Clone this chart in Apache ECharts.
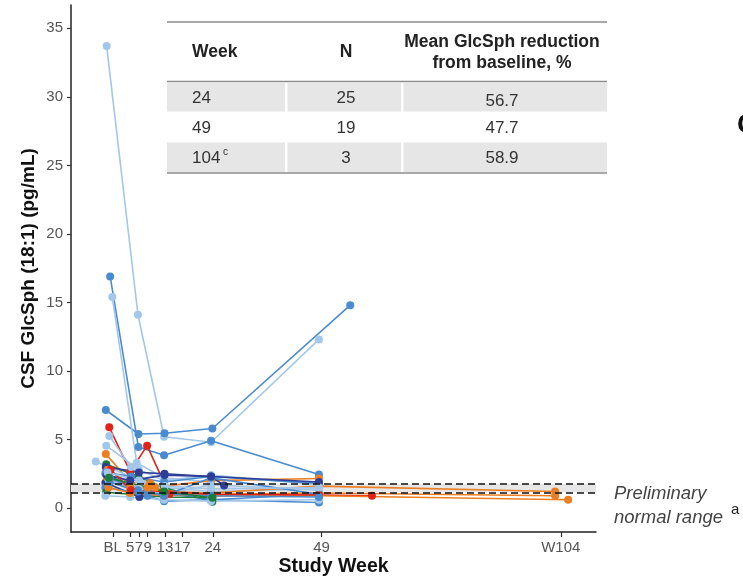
<!DOCTYPE html>
<html>
<head>
<meta charset="utf-8">
<script src="https://cdn.jsdelivr.net/npm/echarts@6/dist/echarts.min.js"></script>
<style>
  html, body { margin: 0; padding: 0; background: #fff; }
  #main { width: 743px; height: 578px; }
</style>
</head>
<body>
<div id="main"></div>
<script>
// tick positions on the study week axis
const weekTicks = [1, 5, 7, 9, 13, 17, 24, 49, 104];
const weekTickLabels = ['BL', '5', '7', '9', '13', '17', '24', '49', 'W104'];
const yTicks = [0, 5, 10, 15, 20, 25, 30, 35];

// normal range band (pg/mL)
const normalRange = [1.15, 1.75];

// per patient: colour group, visit weeks (as plotted, with jitter), values
const patientColors = [
  'lightBlue', 'blue', 'blue', 'lightBlue', 'red', 'lightBlue', 'lightBlue',
  'orange', 'lightBlue', 'green', 'navy', 'blue', 'navy', 'blue', 'green',
  'lightBlue', 'orange', 'orange', 'orange', 'blue', 'lightBlue', 'blue',
  'navy', 'red', 'lightBlue', 'blue', 'green'
];
const patientWeeks = [
  [-0.4, 6.8, 12.8, 23.6, 48.4],
  [0.4, 6.9, 12.8, 23.6, 48.4],
  [-0.6, 6.9, 12.9, 23.9, 55.6],
  [0.9, 6.5, 12.8, 23.6],
  [0.2, 5.0, 8.9, 14.0, 23.6, 48.4, 60.6],
  [0.2, 5.2, 9.2, 12.8, 23.6, 48.4],
  [-0.5, 7.0, 12.8, 23.6, 48.4],
  [-0.6, 5.0, 9.6, 12.8, 23.6, 48.4],
  [-2.9, 7.0, 12.8, 23.6],
  [-0.5, 6.9, 12.8, 23.9],
  [-0.6, 7.0, 12.9, 23.6, 26.6],
  [-0.7, 5.0, 9.0, 12.8, 23.6, 48.4],
  [-0.7, 7.1, 12.8, 23.6],
  [-0.7, 5.0, 9.0, 12.8, 23.6, 48.4],
  [-0.5, 5.0, 12.8, 23.9],
  [-0.7, 5.0, 12.8, 23.6, 48.4],
  [-0.3, 5.0, 10.7, 12.8, 23.6, 48.4, 102.7],
  [0.0, 5.0, 12.8, 23.6, 48.4, 102.7],
  [-0.2, 5.0, 9.0, 12.8, 23.6, 48.4, 105.7],
  [-0.6, 5.2, 12.8, 23.6, 48.4],
  [0.1, 7.0, 12.8, 23.6, 48.4],
  [0.3, 6.8, 12.8, 23.6, 48.4],
  [-0.4, 5.0, 12.9, 23.6, 48.4],
  [0.5, 5.2, 12.8, 23.6, 48.4],
  [-0.2, 7.0, 13.0, 23.6, 48.4],
  [0.3, 6.8, 12.8, 23.6, 48.4],
  [0.1, 12.8, 23.9]
];
const patientValues = [
  [33.7, 14.1, 5.2, 4.8, 12.3],
  [16.9, 4.45, 3.85, 4.9, 2.45],
  [7.15, 5.4, 5.45, 5.8, 14.8],
  [15.4, 3.3, 2.2, 1.9],
  [5.9, 2.65, 4.55, 1.0, 0.9, 0.95, 0.9],
  [5.25, 3.0, 1.7, 1.5, 1.2, 1.4],
  [4.55, 2.8, 2.0, 2.4, 1.7],
  [3.95, 1.9, 1.8, 1.6, 2.0, 2.15],
  [3.4, 2.0, 1.3, 1.0],
  [3.2, 2.3, 1.5, 0.45],
  [3.0, 2.6, 2.5, 2.3, 1.65],
  [2.5, 1.6, 1.3, 1.1, 0.6, 0.4],
  [1.85, 0.8, 1.1, 1.0],
  [1.5, 1.2, 0.9, 0.5, 0.6, 1.0],
  [1.15, 1.0, 0.8, 0.75],
  [0.9, 0.8, 0.6, 0.5, 0.6],
  [2.2, 1.45, 1.5, 1.2, 1.1, 1.6, 1.2],
  [1.5, 1.1, 0.9, 1.0, 1.1, 0.9],
  [2.8, 1.8, 1.5, 1.3, 0.9, 0.9, 0.6],
  [2.6, 2.3, 1.9, 2.3, 1.8],
  [2.0, 1.4, 1.0, 1.7, 1.3],
  [2.2, 1.3, 0.9, 2.2, 1.0],
  [2.4, 2.0, 2.4, 2.3, 1.9],
  [2.8, 1.3, 1.2, 1.0, 0.95],
  [2.6, 2.0, 1.6, 1.4, 1.5],
  [1.9, 1.2, 1.0, 0.9, 0.8],
  [2.2, 1.2, 0.75]
];

// inset table
const tableWeeks = ['24', '49', '104'];
const tableN = ['25', '19', '3'];
const tableReduction = ['56.7', '47.7', '58.9'];

const palette = {
  blue: '#4a8bcf',
  lightBlue: '#a3c7ea',
  navy: '#2e3d96',
  orange: '#ec7f22',
  red: '#e2231a',
  green: '#1d7b3c'
};
const font = '"Liberation Sans", Arial, Helvetica, sans-serif';

const chart = echarts.init(document.getElementById('main'));

const series = patientWeeks.map((w, i) => {
  const c = palette[patientColors[i]];
  return {
    type: 'line',
    data: w.map((x, j) => [x, patientValues[i][j]]),
    symbol: 'circle',
    symbolSize: 8,
    showSymbol: true,
    lineStyle: { width: 1.6, color: c },
    itemStyle: { color: c },
    z: 3,
    silent: true
  };
});

// normal range band and dashed limits
series.push({
  type: 'line',
  data: [],
  z: 1,
  markArea: {
    silent: true,
    itemStyle: { color: '#e6e6e6' },
    data: [[{ yAxis: normalRange[0], xAxis: -8.6 }, { yAxis: normalRange[1], xAxis: 112.1 }]]
  }
});
series.push({
  type: 'line',
  data: [],
  z: 5,
  markLine: {
    silent: true,
    symbol: 'none',
    label: { show: false },
    lineStyle: { color: '#111', type: [7, 4], width: 1.5 },
    data: normalRange.map(v => ({ yAxis: v }))
  }
});

// table graphics
const tLeft = 167, tRight = 607;
const colWeekX = 192, colNX = 346, colRedX = 502;
const rowTop = [83, 112, 142.5];
const rowH = [28.5, 30.5, 29.5];
const graphic = [];
rowTop.forEach((t, i) => {
  if (i !== 1) {
    graphic.push({ type: 'rect', shape: { x: tLeft, y: t, width: tRight - tLeft, height: rowH[i] },
      style: { fill: '#e6e6e6' }, z: 10 });
  }
});
[286, 402].forEach(x => {
  graphic.push({ type: 'rect', shape: { x: x - 1, y: 82, width: 2.5, height: 91 },
    style: { fill: '#fff' }, z: 11 });
});
[22, 81.5, 173].forEach(y => {
  graphic.push({ type: 'line', shape: { x1: tLeft, y1: y, x2: tRight, y2: y },
    style: { stroke: '#8c8c8c', lineWidth: 1.5 }, z: 12 });
});
const headStyle = { font: 'bold 17.5px ' + font, fill: '#222', verticalAlign: 'middle' };
graphic.push({ type: 'text', x: colWeekX, y: 52, z: 12, style: Object.assign({ text: 'Week', align: 'left' }, headStyle) });
graphic.push({ type: 'text', x: colNX, y: 52, z: 12, style: Object.assign({ text: 'N', align: 'center' }, headStyle) });
graphic.push({ type: 'text', x: colRedX, y: 42, z: 12, style: Object.assign({ text: 'Mean GlcSph reduction', align: 'center' }, headStyle) });
graphic.push({ type: 'text', x: colRedX, y: 63, z: 12, style: Object.assign({ text: 'from baseline, %', align: 'center' }, headStyle) });
const cellStyle = { font: '17px ' + font, fill: '#333', verticalAlign: 'middle' };
tableWeeks.forEach((w, i) => {
  const cy = rowTop[i] + rowH[i] / 2 + 1;
  graphic.push({ type: 'text', x: colWeekX, y: cy, z: 12, style: Object.assign({ text: w, align: 'left' }, cellStyle) });
  graphic.push({ type: 'text', x: colNX, y: cy, z: 12, style: Object.assign({ text: tableN[i], align: 'center' }, cellStyle) });
  graphic.push({ type: 'text', x: colRedX, y: cy + (i === 0 ? 3 : 0), z: 12, style: Object.assign({ text: tableReduction[i], align: 'center' }, cellStyle) });
});
graphic.push({ type: 'text', x: 223, y: rowTop[2] + 10, z: 12,
  style: { text: 'c', font: '10px ' + font, fill: '#333', align: 'left', verticalAlign: 'middle' } });

// normal range note
graphic.push({ type: 'text', x: 614, y: 494, z: 12,
  style: { text: 'Preliminary', font: 'italic 18.5px ' + font, fill: '#444', align: 'left', verticalAlign: 'middle' } });
graphic.push({ type: 'text', x: 614, y: 518, z: 12,
  style: { text: 'normal range', font: 'italic 18.5px ' + font, fill: '#444', align: 'left', verticalAlign: 'middle' } });
graphic.push({ type: 'text', x: 731, y: 510, z: 12,
  style: { text: 'a', font: '15px ' + font, fill: '#222', align: 'left', verticalAlign: 'middle' } });
// edge of neighbouring panel letter
graphic.push({ type: 'text', x: 737, y: 125, z: 12,
  style: { text: 'C', font: 'bold 28px ' + font, fill: '#111', align: 'left', verticalAlign: 'middle' } });

chart.setOption({
  animation: false,
  backgroundColor: '#fff',
  textStyle: { fontFamily: font },
  grid: { left: 71, right: 147, top: 5, bottom: 46, outerBoundsMode: 'none', containLabel: false },
  xAxis: {
    type: 'value',
    min: -8.6,
    max: 112.1,
    name: 'Study Week',
    nameLocation: 'middle',
    nameGap: 25,
    nameMoveOverlap: false,
    nameTextStyle: { fontSize: 19.5, fontWeight: 'bold', color: '#111', fontFamily: font },
    axisLine: { onZero: false, lineStyle: { color: '#222', width: 1.5 } },
    axisTick: { show: true, length: 5, lineStyle: { color: '#333', width: 1.2 }, customValues: weekTicks },
    axisLabel: {
      customValues: weekTicks,
      margin: 8,
      fontSize: 15,
      color: '#555',
      fontFamily: font,
      formatter: v => weekTickLabels[weekTicks.indexOf(v)]
    },
    splitLine: { show: false }
  },
  yAxis: {
    type: 'value',
    min: -1.75,
    max: 36.7,
    name: 'CSF GlcSph (18:1) (pg/mL)',
    nameLocation: 'middle',
    nameGap: 33,
    nameMoveOverlap: false,
    nameTextStyle: { fontSize: 19, fontWeight: 'bold', color: '#111', fontFamily: font },
    axisLine: { show: true, onZero: false, lineStyle: { color: '#222', width: 1.5 } },
    axisTick: { show: true, length: 4, lineStyle: { color: '#333', width: 1.2 }, customValues: yTicks },
    axisLabel: { customValues: yTicks, margin: 8, fontSize: 15, color: '#555', fontFamily: font },
    splitLine: { show: false }
  },
  graphic: graphic,
  series: series
});
</script>
</body>
</html>
